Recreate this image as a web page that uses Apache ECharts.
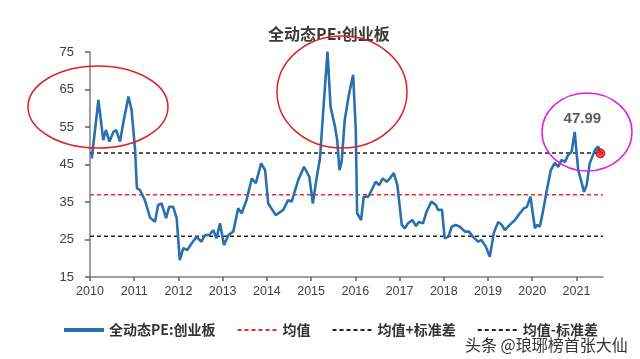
<!DOCTYPE html>
<html>
<head>
<meta charset="utf-8">
<script src="https://cdn.jsdelivr.net/npm/echarts@6/dist/echarts.min.js"></script>
<style>
html,body{margin:0;padding:0;background:#fff;}
#c{width:640px;height:359px;}
</style>
</head>
<body>
<div id="c"></div>
<script>
// ---- data ----
const titleText = '全动态PE:创业板';
const seriesNames = ['全动态PE:创业板', '均值', '均值+标准差', '均值-标准差'];
const years = [
  2010.04, 2010.19, 2010.30, 2010.36, 2010.44, 2010.53, 2010.59, 2010.68, 2010.75, 2010.87, 2010.94,
  2011.02, 2011.06, 2011.13, 2011.24, 2011.36, 2011.47, 2011.54, 2011.62, 2011.72, 2011.79, 2011.88, 2011.96,
  2012.03, 2012.11, 2012.20, 2012.30, 2012.41, 2012.52, 2012.60, 2012.70, 2012.79, 2012.86, 2012.94,
  2013.03, 2013.13, 2013.24, 2013.35, 2013.43, 2013.54, 2013.66, 2013.75, 2013.87, 2013.96,
  2014.03, 2014.20, 2014.37, 2014.48, 2014.56, 2014.71, 2014.84, 2014.96,
  2015.04, 2015.12, 2015.20, 2015.27, 2015.37, 2015.44, 2015.54, 2015.59, 2015.64, 2015.69, 2015.76, 2015.86, 2015.95,
  2016.01, 2016.04, 2016.13, 2016.19, 2016.29, 2016.37, 2016.46, 2016.54, 2016.62, 2016.71, 2016.78, 2016.87, 2016.95,
  2017.05, 2017.12, 2017.19, 2017.29, 2017.37, 2017.44, 2017.53, 2017.61, 2017.72, 2017.82, 2017.87, 2017.96,
  2018.02, 2018.10, 2018.18, 2018.27, 2018.36, 2018.48, 2018.57, 2018.66, 2018.78, 2018.85, 2018.95,
  2019.04, 2019.13, 2019.23, 2019.31, 2019.38, 2019.49, 2019.61, 2019.72, 2019.81, 2019.88, 2019.96,
  2020.06, 2020.11, 2020.17, 2020.24, 2020.33, 2020.42, 2020.51, 2020.59, 2020.66, 2020.74, 2020.81, 2020.89, 2020.96,
  2021.00, 2021.04, 2021.10, 2021.17, 2021.23, 2021.30, 2021.42, 2021.49, 2021.54
];
const pe = [
  46.6, 62.2, 51.5, 54.2, 51.1, 53.7, 54.2, 51.1, 56.0, 63.1, 59.5,
  48.9, 38.7, 38.2, 35.5, 30.8, 29.7, 34.2, 34.6, 30.7, 33.7, 33.7, 30.7,
  19.5, 22.7, 22.2, 24.0, 25.7, 24.4, 26.2, 26.2, 27.5, 25.3, 29.3,
  23.5, 26.2, 27.1, 33.3, 32.0, 35.5, 41.3, 40.0, 45.3, 43.5,
  34.6, 31.5, 32.9, 35.5, 35.1, 40.9, 44.4, 41.7,
  34.6, 41.1, 46.6, 58.6, 75.1, 60.4, 55.1, 51.5, 43.5, 45.7, 56.9, 64.0, 68.9,
  54.2, 32.0, 30.2, 36.4, 36.4, 38.2, 40.4, 39.5, 41.3, 40.4, 41.3, 42.7, 39.5,
  28.9, 28.0, 29.3, 30.2, 28.6, 29.7, 29.3, 32.4, 35.1, 34.2, 32.9, 32.9,
  25.3, 25.7, 28.4, 28.9, 28.4, 27.1, 27.1, 25.7, 24.4, 24.9, 23.1,
  20.4, 26.7, 29.7, 28.9, 27.5, 28.9, 30.2, 32.0, 33.3, 33.7, 36.4,
  28.0, 28.9, 28.4, 32.3, 38.2, 43.5, 45.4, 44.4, 46.2, 45.7, 47.5, 48.4, 53.7,
  48.4, 43.5, 40.9, 37.7, 39.5, 45.3, 48.9, 49.8, 47.99
];
const meanVal = 36.95;
const upperVal = 48.05;
const lowerVal = 25.85;
const xStart = 2010;
const xEnd = 2021.6;
const yearTicks = [2010, 2011, 2012, 2013, 2014, 2015, 2016, 2017, 2018, 2019, 2020, 2021];
const yMin = 15, yMax = 75, yStep = 10;
const lastValueLabel = '47.99';
const watermark = '头条 @琅琊榜首张大仙';

// ---- build ----
const mainData = years.map((y, i) => [y, pe[i]]);
const hline = v => [[xStart, v], [xEnd, v]];
const lastPoint = [[years[years.length - 1], pe[pe.length - 1]]];

const cjk = '"Noto Sans CJK SC", "Noto Sans", sans-serif';
const chart = echarts.init(document.getElementById('c'), null, {renderer: 'canvas'});
chart.setOption({
  animation: false,
  backgroundColor: '#ffffff',
  title: {
    text: titleText,
    left: 263, top: 21,
    textStyle: {fontFamily: cjk, fontSize: 16, fontWeight: 'bold', color: '#3a3a3a'}
  },
  grid: {left: 90, right: 37, top: 52, bottom: 82, containLabel: false, outerBoundsMode: 'none'},
  legend: {
    data: [
      {name: seriesNames[0], lineStyle: {width: 4}},
      {name: seriesNames[1]},
      {name: seriesNames[2]},
      {name: seriesNames[3]}
    ],
    left: 57, top: 318,
    itemWidth: 40, itemHeight: 12, itemGap: 21,
    itemStyle: {opacity: 0},
    textStyle: {fontFamily: cjk, fontSize: 14, fontWeight: 'bold', color: '#333'}
  },
  xAxis: {
    type: 'value', min: xStart, max: xEnd, interval: 1,
    splitLine: {show: false},
    axisLine: {lineStyle: {color: '#808080', width: 1.5}},
    axisTick: {show: true, length: 4, lineStyle: {color: '#606060', width: 1.5}, customValues: yearTicks},
    axisLabel: {
      customValues: yearTicks, margin: 8, color: '#404040', fontSize: 12.5,
      fontFamily: '"Liberation Sans", Arial, sans-serif',
      formatter: v => String(v)
    }
  },
  yAxis: {
    type: 'value', min: yMin, max: yMax, interval: yStep,
    splitLine: {show: false},
    axisLine: {show: true, lineStyle: {color: '#808080', width: 1.5}},
    axisTick: {show: true, length: 5, lineStyle: {color: '#606060', width: 1.5}},
    axisLabel: {margin: 16, color: '#404040', fontSize: 13, fontFamily: '"Liberation Sans", Arial, sans-serif'}
  },
  series: [
    {
      name: seriesNames[1], type: 'line', data: hline(meanVal), symbol: 'none', z: 2,
      lineStyle: {color: '#f02a2a', width: 1.5, type: [4, 3]}, itemStyle: {color: '#f02a2a'}
    },
    {
      name: seriesNames[2], type: 'line', data: hline(upperVal), symbol: 'none', z: 2,
      lineStyle: {color: '#222', width: 1.5, type: [4, 3]}, itemStyle: {color: '#222'}
    },
    {
      name: seriesNames[3], type: 'line', data: hline(lowerVal), symbol: 'none', z: 2,
      lineStyle: {color: '#222', width: 1.5, type: [4, 3]}, itemStyle: {color: '#222'}
    },
    {
      name: seriesNames[0], type: 'line', data: mainData, symbol: 'none', z: 3,
      lineStyle: {color: '#2b70ae', width: 2.6}, itemStyle: {color: '#2b70ae'}
    },
    {
      name: 'last', type: 'scatter', data: lastPoint, z: 5,
      symbolSize: 9,
      itemStyle: {color: '#ff1010', borderColor: '#a00000', borderWidth: 1},
      label: {
        show: true, position: 'top', distance: 0, offset: [-18, -22],
        formatter: lastValueLabel,
        fontFamily: '"Liberation Sans", Arial, sans-serif', fontSize: 15, fontWeight: 'bold', color: '#333'
      }
    }
  ],
  graphic: [
    {type: 'ellipse', shape: {cx: 98, cy: 107, rx: 70, ry: 41}, style: {fill: 'none', stroke: '#e0202a', lineWidth: 1.5}, z: 10},
    {type: 'ellipse', shape: {cx: 342, cy: 92, rx: 65, ry: 56}, style: {fill: 'none', stroke: '#e0202a', lineWidth: 1.5}, z: 10},
    {type: 'ellipse', shape: {cx: 587, cy: 132, rx: 45, ry: 39}, style: {fill: 'none', stroke: '#e020e0', lineWidth: 1.5}, z: 10},
    {type: 'text', left: 465, top: 337, style: {text: watermark, font: '16px "Noto Sans CJK SC", sans-serif', fill: '#333'}, z: 10}
  ]
});
</script>
</body>
</html>
